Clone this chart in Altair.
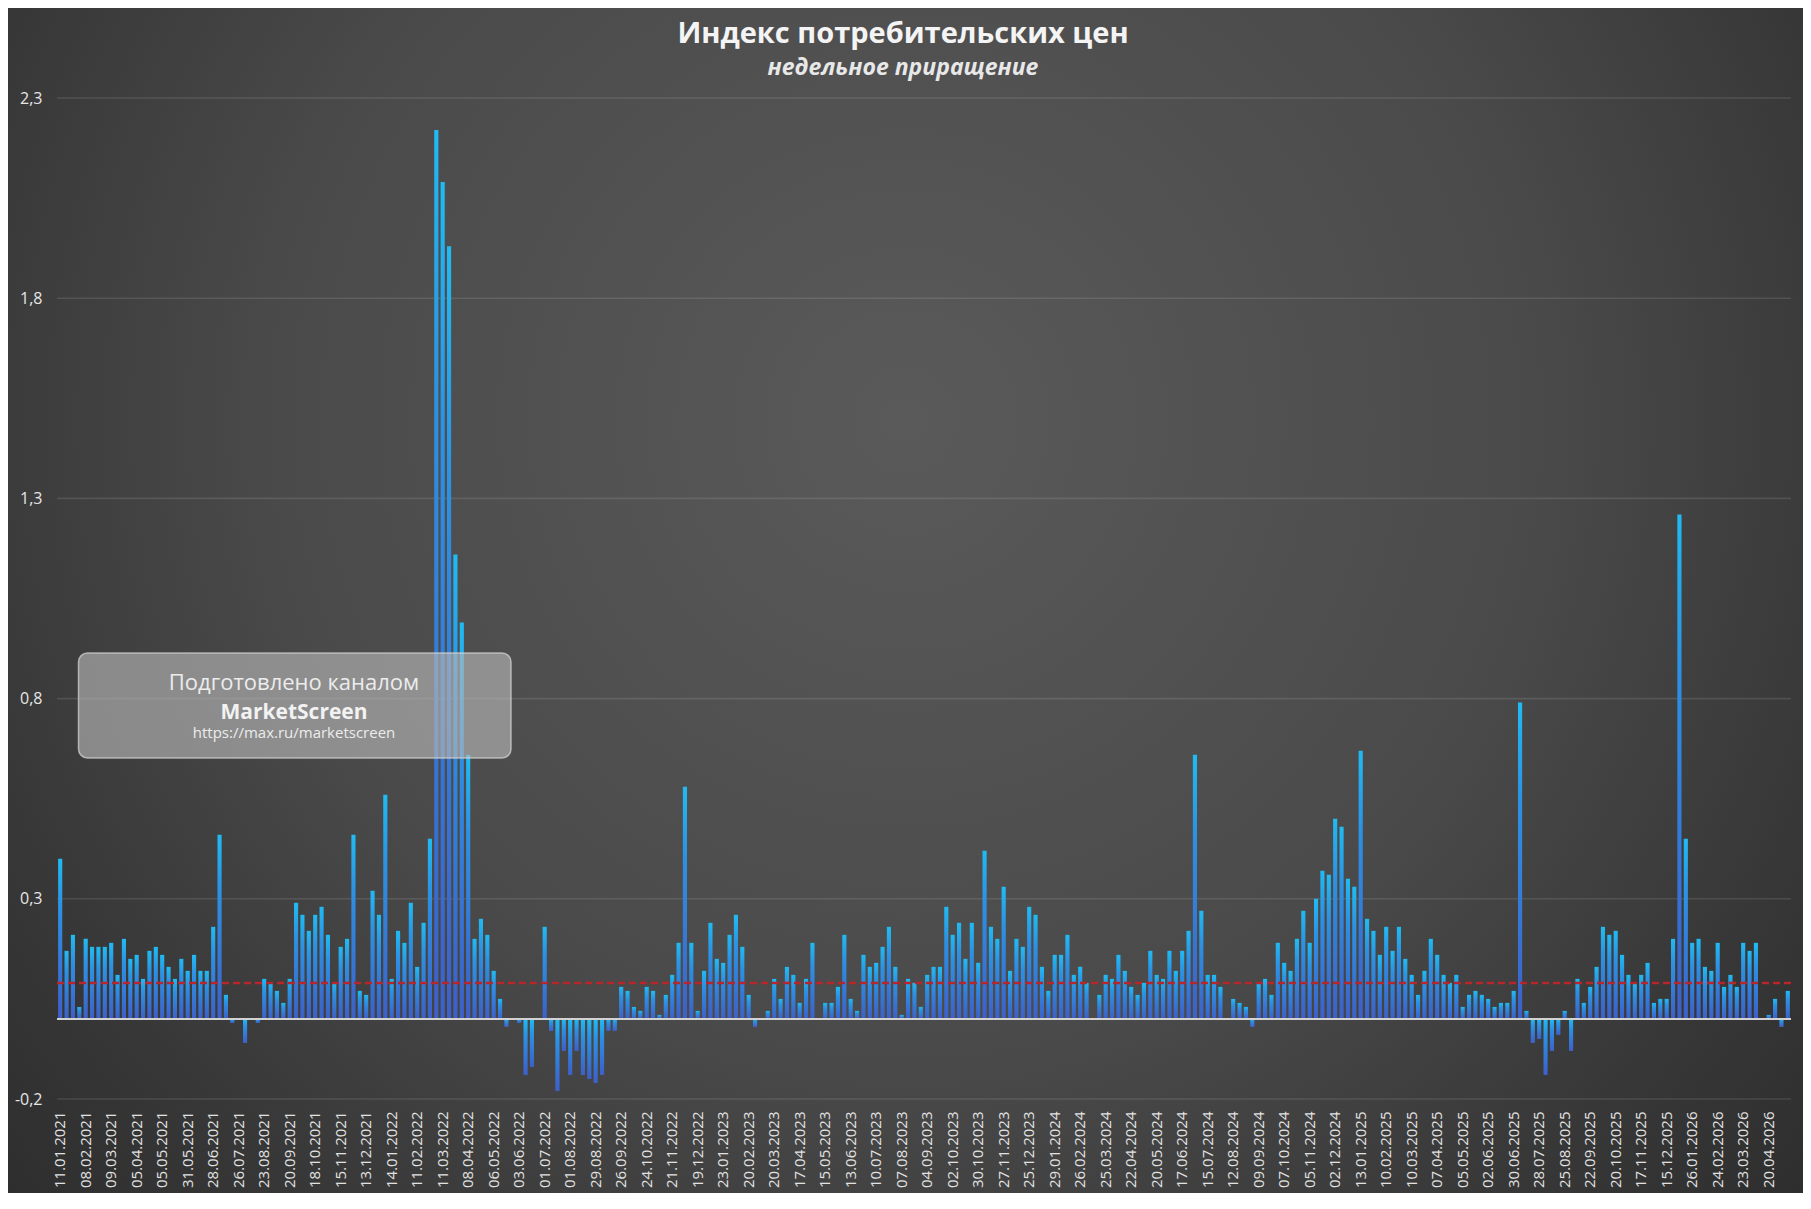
import altair as alt
import pandas as pd

# ---------------- data ----------------
TICK_LABELS = [
    "11.01.2021", "08.02.2021", "09.03.2021", "05.04.2021", "05.05.2021", "31.05.2021",
    "28.06.2021", "26.07.2021", "23.08.2021", "20.09.2021", "18.10.2021", "15.11.2021",
    "13.12.2021", "14.01.2022", "11.02.2022", "11.03.2022", "08.04.2022", "06.05.2022",
    "03.06.2022", "01.07.2022", "01.08.2022", "29.08.2022", "26.09.2022", "24.10.2022",
    "21.11.2022", "19.12.2022", "23.01.2023", "20.02.2023", "20.03.2023", "17.04.2023",
    "15.05.2023", "13.06.2023", "10.07.2023", "07.08.2023", "04.09.2023", "02.10.2023",
    "30.10.2023", "27.11.2023", "25.12.2023", "29.01.2024", "26.02.2024", "25.03.2024",
    "22.04.2024", "20.05.2024", "17.06.2024", "15.07.2024", "12.08.2024", "09.09.2024",
    "07.10.2024", "05.11.2024", "02.12.2024", "13.01.2025", "10.02.2025", "10.03.2025",
    "07.04.2025", "05.05.2025", "02.06.2025", "30.06.2025", "28.07.2025", "25.08.2025",
    "22.09.2025", "20.10.2025", "17.11.2025", "15.12.2025", "26.01.2026", "24.02.2026",
    "23.03.2026", "20.04.2026",
]

WEEKLY_CPI = [
    # 2021
    0.40, 0.17, 0.21, 0.03, 0.20, 0.18, 0.18, 0.18, 0.19, 0.11,
    0.20, 0.15, 0.16, 0.10, 0.17, 0.18, 0.16, 0.13, 0.10, 0.15,
    0.12, 0.16, 0.12, 0.12, 0.23, 0.46, 0.06, -0.01, 0.00, -0.06,
    0.00, -0.01, 0.10, 0.09, 0.07, 0.04, 0.10, 0.29, 0.26, 0.22,
    0.26, 0.28, 0.21, 0.09, 0.18, 0.20, 0.46, 0.07, 0.06, 0.32,
    0.26, 0.56,
    # 2022
    0.10, 0.22, 0.19, 0.29, 0.13, 0.24, 0.45, 2.22, 2.09, 1.93,
    1.16, 0.99, 0.66, 0.20, 0.25, 0.21, 0.12, 0.05, -0.02, 0.00,
    -0.01, -0.14, -0.12, 0.00, 0.23, -0.03, -0.18, -0.08, -0.14, -0.08,
    -0.14, -0.15, -0.16, -0.14, -0.03, -0.03, 0.08, 0.07, 0.03, 0.02,
    0.08, 0.07, 0.01, 0.06, 0.11, 0.19, 0.58, 0.19, 0.02, 0.12,
    # 2023
    0.24, 0.15, 0.14, 0.21, 0.26, 0.18, 0.06, -0.02, 0.00, 0.02,
    0.10, 0.05, 0.13, 0.11, 0.04, 0.10, 0.19, 0.00, 0.04, 0.04,
    0.08, 0.21, 0.05, 0.02, 0.16, 0.13, 0.14, 0.18, 0.23, 0.13,
    0.01, 0.10, 0.09, 0.03, 0.11, 0.13, 0.13, 0.28, 0.21, 0.24,
    0.15, 0.24, 0.14, 0.42, 0.23, 0.20, 0.33, 0.12, 0.20, 0.18,
    0.28, 0.26,
    # 2024
    0.13, 0.07, 0.16, 0.16, 0.21, 0.11, 0.13, 0.09, 0.00, 0.06,
    0.11, 0.10, 0.16, 0.12, 0.08, 0.06, 0.09, 0.17, 0.11, 0.10,
    0.17, 0.12, 0.17, 0.22, 0.66, 0.27, 0.11, 0.11, 0.08, 0.00,
    0.05, 0.04, 0.03, -0.02, 0.09, 0.10, 0.06, 0.19, 0.14, 0.12,
    0.20, 0.27, 0.19, 0.30, 0.37, 0.36, 0.50, 0.48, 0.35, 0.33,
    # 2025
    0.67, 0.25, 0.22, 0.16, 0.23, 0.17, 0.23, 0.15, 0.11, 0.06,
    0.12, 0.20, 0.16, 0.11, 0.09, 0.11, 0.03, 0.06, 0.07, 0.06,
    0.05, 0.03, 0.04, 0.04, 0.07, 0.79, 0.02, -0.06, -0.05, -0.14,
    -0.08, -0.04, 0.02, -0.08, 0.10, 0.04, 0.08, 0.13, 0.23, 0.21,
    0.22, 0.16, 0.11, 0.09, 0.11, 0.14, 0.04, 0.05, 0.05, 0.20,
    # 2026
    1.26, 0.45, 0.19, 0.20, 0.13, 0.12, 0.19, 0.08, 0.11, 0.08,
    0.19, 0.17, 0.19, 0.00, 0.01, 0.05, -0.02, 0.07,
]

AVERAGE_LEVEL = [0.09]
Y_TICKS = [-0.2, 0.3, 0.8, 1.3, 1.8, 2.3]

TITLE = "Индекс потребительских цен"
SUBTITLE = "недельное приращение"
WATERMARK = ["Подготовлено каналом", "MarketScreen", "https://max.ru/marketscreen"]

# ---------------- layout ----------------
W, H = 1734, 1001
PAD = {"left": 49, "top": 90, "right": 12, "bottom": 94}
FONT = "Open Sans"

bars_df = pd.DataFrame({"idx": list(range(len(WEEKLY_CPI))), "value": WEEKLY_CPI})
one = pd.DataFrame({"k": [0]})

yscale = alt.Scale(domain=[-0.2, 2.3], nice=False, zero=False)
yaxis = alt.Axis(
    values=Y_TICKS,
    labelExpr="replace(datum.value + '', '.', ',')",
    labelFont=FONT,
    labelFontSize=16,
    labelColor="#e6e6e6",
    labelPadding=15,
    domain=False,
    ticks=False,
    grid=False,
    title=None,
    zindex=1,
)


def yenc(field):
    return alt.Y(field, scale=yscale, axis=yaxis, title=None)


label_js = "[" + ",".join("'" + s + "'" for s in TICK_LABELS) + "][floor(datum.value/4)]"

background = alt.Chart(one).mark_rect(
    fill={
        "gradient": "radial",
        "x1": 0.5, "y1": 0.4, "r1": 0,
        "x2": 0.5, "y2": 0.4, "r2": 0.78,
        "stops": [
            {"offset": 0.0, "color": "#5a5a5a"},
            {"offset": 0.45, "color": "#4a4a4a"},
            {"offset": 0.7, "color": "#373737"},
            {"offset": 1.0, "color": "#252525"},
        ],
    }
).encode(
    x=alt.value(-PAD["left"]),
    x2=alt.value(W + PAD["right"]),
    y=alt.value(-PAD["top"]),
    y2=alt.value(H + PAD["bottom"]),
)

grid = alt.Chart(pd.DataFrame({"value": Y_TICKS})).mark_rule(
    color="#ffffff", opacity=0.11, strokeWidth=1.6
).encode(
    y=yenc("value:Q"),
    x=alt.value(0),
    x2=alt.value(W),
)

bars = alt.Chart(bars_df).mark_bar(
    fill={
        "gradient": "linear",
        "x1": 0, "y1": 0, "x2": 0, "y2": 1,
        "stops": [
            {"offset": 0.0, "color": "#20bbf3"},
            {"offset": 0.3, "color": "#2c92e3"},
            {"offset": 1.0, "color": "#3d60c9"},
        ],
    },
    stroke=None,
).encode(
    x=alt.X(
        "idx:O",
        scale=alt.Scale(paddingInner=0.35, paddingOuter=0.175),
        axis=alt.Axis(
            values=list(range(0, len(WEEKLY_CPI), 4)),
            labelExpr=label_js,
            labelAngle=270,
            labelFont=FONT,
            labelFontSize=15,
            labelColor="#e2e2e2",
            labelPadding=12,
            labelOverlap=False,
            domain=False,
            ticks=False,
            grid=False,
            title=None,
            zindex=1,
        ),
    ),
    y=yenc("value:Q"),
)

zero_line = alt.Chart(pd.DataFrame({"value": [0.0]})).mark_rule(
    color="#d2d2d2", strokeWidth=2
).encode(y=yenc("value:Q"), x=alt.value(0), x2=alt.value(W))

avg_line = alt.Chart(pd.DataFrame({"value": AVERAGE_LEVEL})).mark_rule(
    color="#b8262b", strokeWidth=2.5, strokeDash=[7, 4]
).encode(y=yenc("value:Q"), x=alt.value(0), x2=alt.value(W))

box = alt.Chart(one).mark_rect(
    cornerRadius=9, fill="#b9b9b9", fillOpacity=0.62,
    stroke="#d6d6d6", strokeOpacity=0.7, strokeWidth=1.5,
).encode(x=alt.value(21.5), x2=alt.value(454), y=alt.value(555), y2=alt.value(660))

wm1 = alt.Chart(one).mark_text(
    font=FONT, fontSize=22, color="#ececec", align="center", baseline="alphabetic"
).encode(x=alt.value(237), y=alt.value(592), text=alt.value(WATERMARK[0]))
wm2 = alt.Chart(one).mark_text(
    font=FONT, fontSize=21, fontWeight="bold", color="#f2f2f2", align="center", baseline="alphabetic"
).encode(x=alt.value(237), y=alt.value(621), text=alt.value(WATERMARK[1]))
wm3 = alt.Chart(one).mark_text(
    font=FONT, fontSize=15, color="#ececec", align="center", baseline="alphabetic"
).encode(x=alt.value(237), y=alt.value(640), text=alt.value(WATERMARK[2]))

title = alt.Chart(one).mark_text(
    font=FONT, fontSize=29, fontWeight="bold", color="#f4f4f4", align="center", baseline="alphabetic"
).encode(x=alt.value(846), y=alt.value(-55), text=alt.value(TITLE))
subtitle = alt.Chart(one).mark_text(
    font=FONT, fontSize=23, fontWeight="bold", fontStyle="italic", color="#e8e8e8",
    align="center", baseline="alphabetic"
).encode(x=alt.value(846), y=alt.value(-23), text=alt.value(SUBTITLE))

chart = alt.layer(
    background, grid, bars, zero_line, avg_line, box, wm1, wm2, wm3, title, subtitle
).properties(
    width=W,
    height=H,
    autosize=alt.AutoSizeParams(type="none"),
    padding=PAD,
    background="#2e2e2e",
).configure_view(stroke=None)

chart.save("out.html", embed_options={"renderer": "svg", "actions": False})
